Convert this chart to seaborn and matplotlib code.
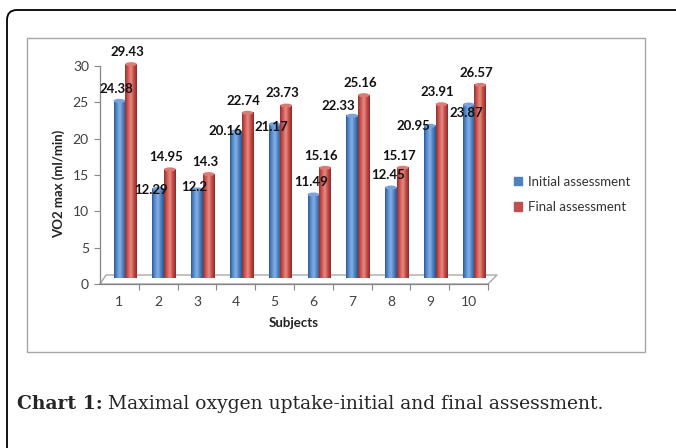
import numpy as np
import pandas as pd
import matplotlib
matplotlib.use('Agg')
import matplotlib.pyplot as plt
import seaborn as sns
from matplotlib.colors import LinearSegmentedColormap
from matplotlib.patches import Patch, FancyBboxPatch, Rectangle, Ellipse
from matplotlib.transforms import IdentityTransform, ScaledTranslation

# ---- data ----
subjects = ['1', '2', '3', '4', '5', '6', '7', '8', '9', '10']
initial = [24.38, 12.29, 12.2, 20.16, 21.17, 11.49, 22.33, 12.45, 20.95, 23.87]
final = [29.43, 14.95, 14.3, 22.74, 23.73, 15.16, 25.16, 15.17, 23.91, 26.57]
series_names = ['Initial assessment', 'Final assessment']
y_ticks = [0, 5, 10, 15, 20, 25, 30]

# label nudges (layout only, as in the Excel original)
init_dx = [-3, -7, -3, -10, -3, -2, -14, -3, -16, -2]       # px
init_dy = [2.5, 0.7, 1.2, 0.9, 0.5, 2.5, 2.2, 2.6, 0.8, -0.3]  # y units
final_dy = 2.5

blue, red = '#4F81BD', '#C0504D'

sns.set_theme(style='white')
plt.rcParams['font.family'] = ['Lato', 'DejaVu Sans']

df = pd.DataFrame({
    'subject': subjects * 2,
    'vo2': initial + final,
    'assessment': [series_names[0]] * len(subjects) + [series_names[1]] * len(subjects),
})

W, H = 676, 448
fig = plt.figure(figsize=(W / 100, H / 100), dpi=100)
fig.patch.set_facecolor('white')

# outer rounded frame + chart box
fig.add_artist(FancyBboxPatch((7, -40), 720, H - 10 + 40, boxstyle='round,pad=0,rounding_size=10',
                              transform=IdentityTransform(), fill=False, edgecolor='black', lw=1.3))
fig.add_artist(Rectangle((27 / W, 1 - 352 / H), (645 - 27) / W, (352 - 38) / H,
                         transform=fig.transFigure, fill=False, edgecolor='#a6a6a6', lw=1))

ax = fig.add_axes([100 / W, 1 - 284 / H, 388 / W, 218 / H])
sns.barplot(data=df, x='subject', y='vo2', hue='assessment', palette=[blue, red],
            width=0.6, saturation=1, ax=ax, legend=False, edgecolor='none')

# cylinder-ish shading, lifted a few px onto the "back floor"
lift = ax.transData + ScaledTranslation(0, 0.06, fig.dpi_scale_trans)
cmaps = [
    LinearSegmentedColormap.from_list('b', ['#2b5a97', '#5b8fd0', '#86b0e4', '#4d81c2', '#2a5690']),
    LinearSegmentedColormap.from_list('r', ['#93302c', '#cf5a55', '#e88a84', '#c24a45', '#8c2b27']),
]
caps = ['#7aa3dc', '#dc7a74']
grad = np.linspace(0, 1, 60).reshape(1, -1)
for cont, cmap, capc in zip(ax.containers, cmaps, caps):
    for bar in cont:
        bar.set_transform(lift)
        bar.set_clip_on(False)
        x0, w, h = bar.get_x(), bar.get_width(), bar.get_height()
        im = ax.imshow(grad, extent=[x0, x0 + w, 0, h], aspect='auto', cmap=cmap,
                       zorder=2.1, interpolation='bilinear')
        im.set_transform(lift)
        im.set_clip_path(bar)
        im.set_clip_box(None)
        cap = Ellipse((x0 + w / 2, h), w, 0.55, facecolor=capc, edgecolor='none', zorder=2.2)
        ax.add_patch(cap)
        cap.set_transform(lift)
        cap.set_clip_on(False)

# data labels
for i in range(len(subjects)):
    ax.annotate(f'{initial[i]:g}', xy=(i - 0.15, initial[i] + init_dy[i]),
                xytext=(init_dx[i] * 0.72, 0), textcoords='offset points',
                ha='center', va='center', fontsize=9.5, fontweight='bold', color='#111111',
                zorder=5, annotation_clip=False)
    ax.annotate(f'{final[i]:g}', xy=(i + 0.05, final[i] + final_dy),
                ha='center', va='center', fontsize=9.5, fontweight='bold', color='#111111',
                zorder=5, annotation_clip=False)

# 3D-ish floor
dx, dy = 6 / 388, 9 / 218
ax.plot([0, 1, 1 + dx * 1.5, dx, 0], [0, 0, dy, dy, 0], transform=ax.transAxes,
        color='#a0a0a0', lw=0.9, clip_on=False, zorder=0.5)

ax.set_xlim(-0.65, 9.35)
ax.set_ylim(0, 30)
ax.set_yticks(y_ticks)
ax.set_xticks(np.arange(len(subjects)) - 0.15)
ax.set_xticklabels(subjects)
ax.set_xticks(np.arange(len(subjects)) + 0.35, minor=True)
ax.tick_params(axis='y', which='major', length=4, width=0.8, color='#868686', left=True,
               pad=4, labelsize=10, labelcolor='#404040')
ax.tick_params(axis='x', which='major', length=0, pad=9, labelsize=10, labelcolor='#404040')
ax.tick_params(axis='x', which='minor', length=4, width=0.8, color='#868686', bottom=True)
sns.despine(ax=ax)
for s in ['left', 'bottom']:
    ax.spines[s].set_color('#868686')
    ax.spines[s].set_linewidth(0.9)
ax.grid(False)
ax.patch.set_alpha(0)

ax.set_xlabel('Subjects', fontsize=9.5, fontweight='bold', color='#222222', labelpad=6)
ax.set_ylabel('VO2 max (ml/min)', fontsize=9.5, fontweight='bold', color='#222222')
ax.yaxis.set_label_coords(-0.09, 0.459)

fig.legend(handles=[Patch(color=blue), Patch(color=red)], labels=series_names,
           loc='center left', bbox_to_anchor=(514 / W, 1 - 194.5 / H), frameon=False,
           fontsize=9.5, handlelength=0.6, handleheight=0.6, handletextpad=0.45,
           labelspacing=1.0, borderpad=0, borderaxespad=0, labelcolor='#333333')

# caption
serif = ['DejaVu Serif']
t1 = fig.text(17 / W, 1 - 404 / H, 'Chart 1:', family=serif, fontweight='bold',
              fontsize=13.5, va='center', ha='left')
fig.canvas.draw()
bb = t1.get_window_extent(fig.canvas.get_renderer())
fig.text((bb.x1 + 5) / W, 1 - 404 / H, 'Maximal oxygen uptake-initial and final assessment.',
         family=serif, fontsize=13.5, va='center', ha='left')

fig.savefig('out.png', dpi=100)
